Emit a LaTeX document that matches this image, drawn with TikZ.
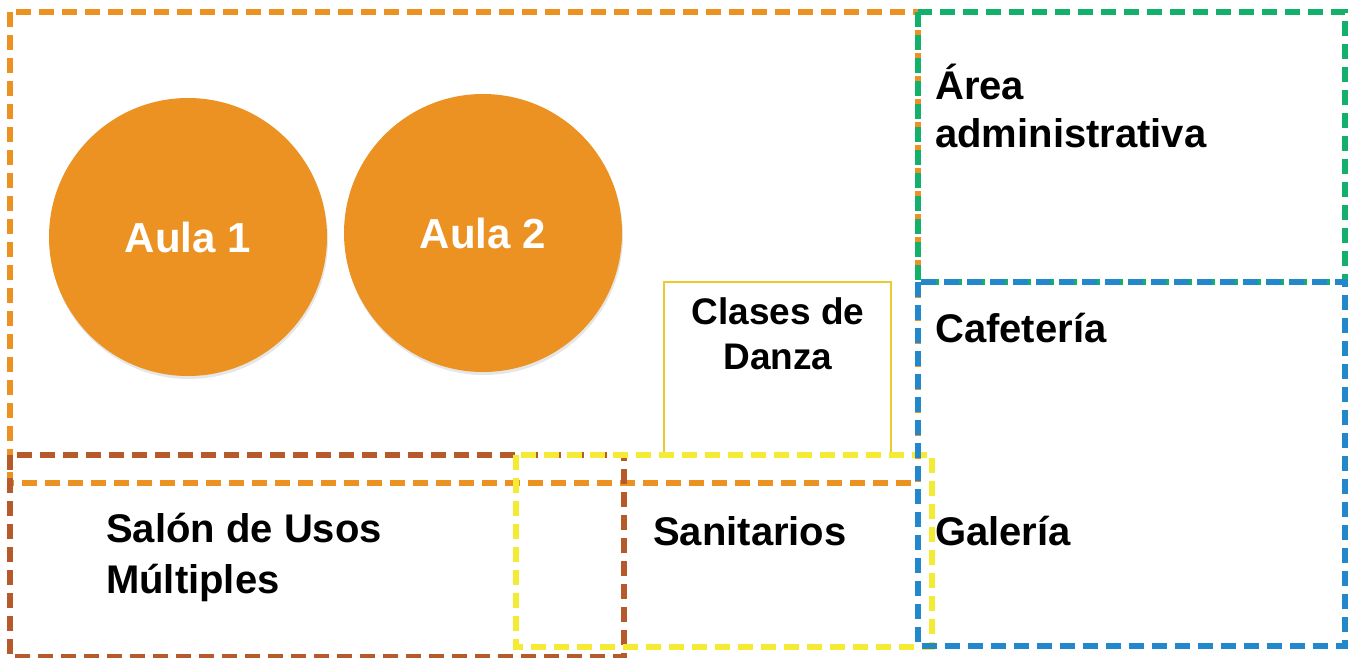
\documentclass[tikz,border=0pt]{standalone}
\usepackage{fontspec}
\setmainfont{Liberation Sans}
\usepackage{xcolor}
\usepackage{tikz}
\usetikzlibrary{shadows}

\definecolor{planorange}{HTML}{EC9223}
\definecolor{plangreen}{HTML}{12B06A}
\definecolor{planblue}{HTML}{2387CC}
\definecolor{planbrown}{HTML}{B65A2B}
\definecolor{planyellow}{HTML}{F5EB35}
\definecolor{danzayellow}{HTML}{EBCB30}

\begin{document}
\begin{tikzpicture}[
  x=1pt, y=-1pt,
  zone/.style={line width=5.5pt, dash pattern=on 15pt off 8pt},
  aula/.style={circle, fill=planorange, minimum size=278pt, inner sep=0pt, text=white, font=\fontsize{42}{42}\selectfont\bfseries, drop shadow={shadow xshift=1pt, shadow yshift=-3pt, opacity=0.2}},
  roomlabel/.style={anchor=base west, align=left, inner sep=0pt, font=\fontsize{40}{48}\selectfont\bfseries}
]
\useasboundingbox (0,0) rectangle (1353,658);
\draw[zone, planorange] (10,12) rectangle (918,483);
\draw[zone, planbrown] (10,455) rectangle (624,657);
\draw[line width=1.5pt, danzayellow] (664,455) |- (891,282) -- (891,455);
\draw[zone, planyellow] (516,455) rectangle (932,647);
\draw[zone, plangreen] (918,12) rectangle (1345,282);
\draw[zone, planblue] (918,282) rectangle (1345,646);
\node[aula] (aula1) at (188,237) {Aula 1};
\node[aula] (aula2) at (483,233) {Aula 2};
\node[roomlabel] (admin) at (935,148) {Área\\administrativa};
\node[roomlabel] (cafe) at (935,342) {Cafetería};
\node[roomlabel] (galeria) at (935,545) {Galería};
\node[roomlabel] (sanitarios) at (653,545) {Sanitarios};
\node[roomlabel, font=\fontsize{40}{51}\selectfont\bfseries] (salon) at (106,593) {Salón de Usos\\Múltiples};
\node[roomlabel, anchor=base, align=center, font=\fontsize{37}{45}\selectfont\bfseries] (danza) at (778,369) {Clases de\\Danza};
\end{tikzpicture}
\end{document}
